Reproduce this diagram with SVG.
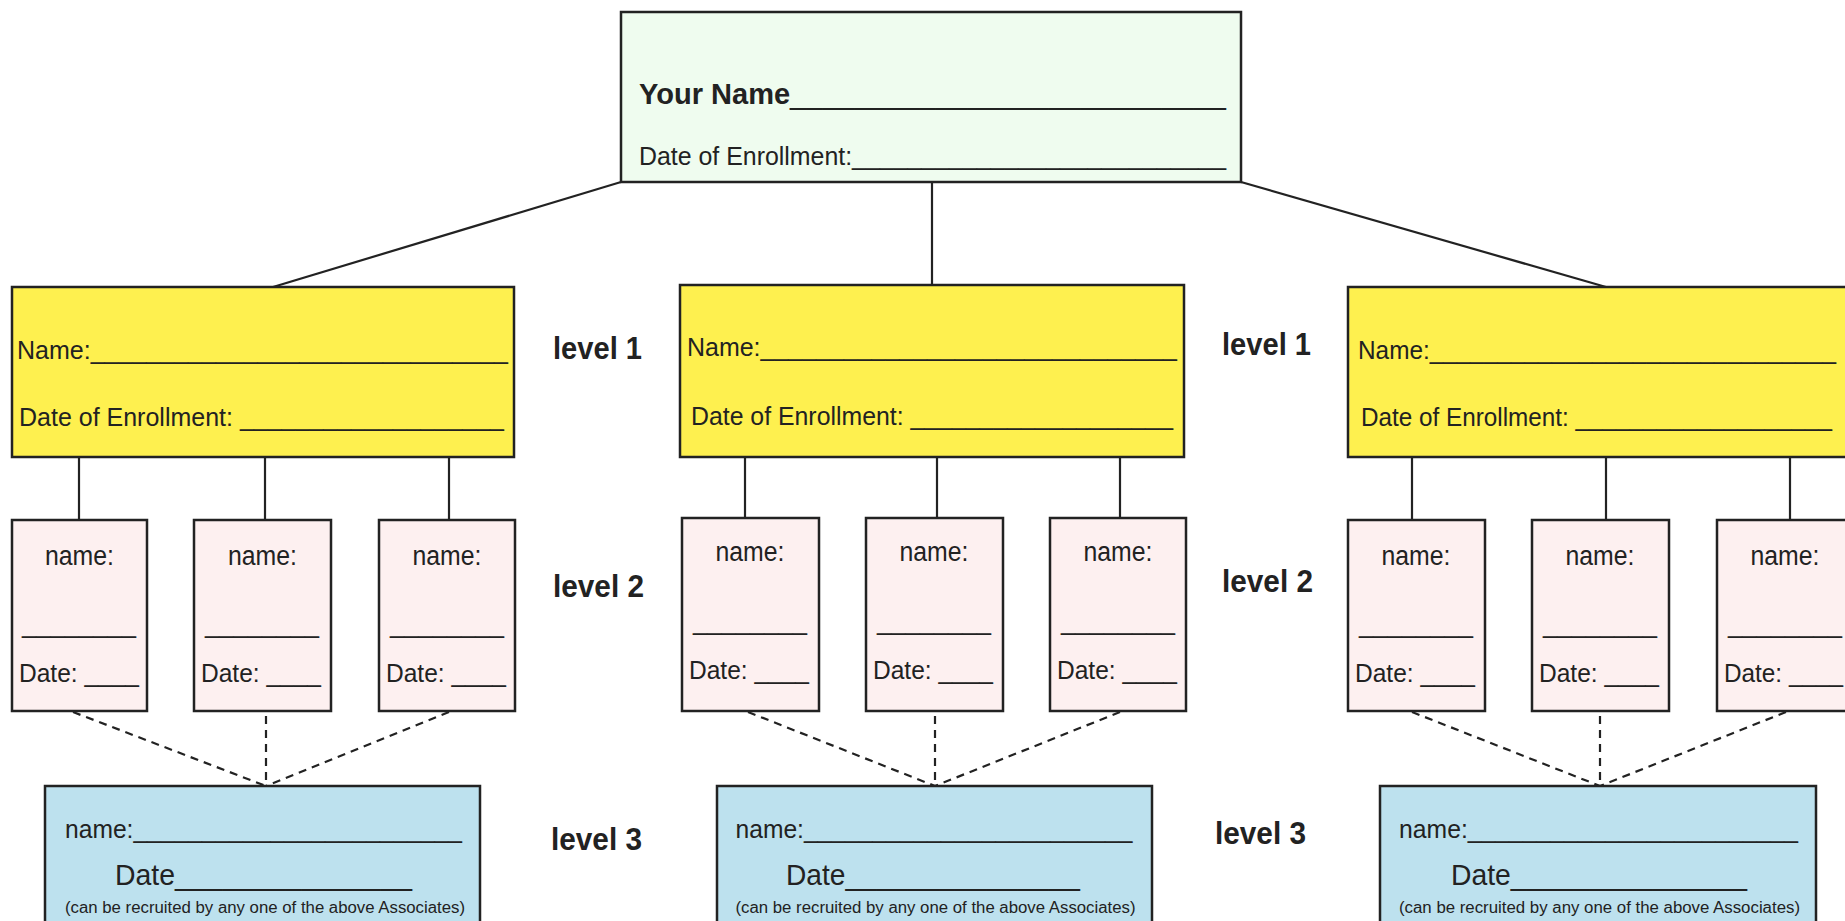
<svg xmlns="http://www.w3.org/2000/svg" width="1845" height="921" viewBox="0 0 1845 921">
<style>
text{font-family:"Liberation Sans",Arial,sans-serif;fill:#222}
.box{stroke:#222;stroke-width:2.5}
.top{fill:#effcef}
.l1{fill:#fef04f}
.l2{fill:#fdf0f0}
.l3{fill:#bde1ee}
.c{stroke:#222;stroke-width:2.2;fill:none}
.d{stroke:#222;stroke-width:2.2;fill:none;stroke-dasharray:8 6}
.lv{font-weight:bold;font-size:31px}
.f25{font-size:26px}
.f24{font-size:25px}
.nm{font-size:27px;text-anchor:middle}
</style>
<rect width="1845" height="921" fill="#fff"/>
<g id="connectors">
<line class="c" x1="621" y1="182" x2="273" y2="287"/>
<line class="c" x1="932" y1="182" x2="932" y2="285"/>
<line class="c" x1="1241" y1="182" x2="1606" y2="287"/>
<line class="c" x1="79" y1="457" x2="79" y2="520"/>
<line class="c" x1="265" y1="457" x2="265" y2="520"/>
<line class="c" x1="449" y1="457" x2="449" y2="520"/>
<line class="c" x1="745" y1="457" x2="745" y2="518"/>
<line class="c" x1="937" y1="457" x2="937" y2="518"/>
<line class="c" x1="1120" y1="457" x2="1120" y2="518"/>
<line class="c" x1="1412" y1="457" x2="1412" y2="520"/>
<line class="c" x1="1606" y1="457" x2="1606" y2="520"/>
<line class="c" x1="1790" y1="457" x2="1790" y2="522"/>
<line class="d" x1="73" y1="712" x2="266" y2="786"/>
<line class="d" x1="266" y1="716" x2="266" y2="786"/>
<line class="d" x1="449" y1="712" x2="266" y2="786"/>
<line class="d" x1="748" y1="712" x2="935" y2="786"/>
<line class="d" x1="935" y1="716" x2="935" y2="786"/>
<line class="d" x1="1120" y1="712" x2="935" y2="786"/>
<line class="d" x1="1412" y1="712" x2="1600" y2="786"/>
<line class="d" x1="1600" y1="716" x2="1600" y2="786"/>
<line class="d" x1="1786" y1="712" x2="1600" y2="786"/>
</g>
<g id="root">
<rect class="box top" x="621" y="12" width="620" height="170"/>
<text x="639" y="104" font-size="30" textLength="587" lengthAdjust="spacingAndGlyphs"><tspan font-weight="bold">Your Name</tspan>___________________________</text>
<text x="639" y="165" font-size="25" textLength="587" lengthAdjust="spacingAndGlyphs">Date of Enrollment:___________________________</text>
</g>
<g id="l1-left">
<rect class="box l1" x="12" y="287" width="502" height="170"/>
<text x="17" y="359" class="f25" textLength="491" lengthAdjust="spacingAndGlyphs">Name:______________________________</text>
<text x="19" y="426" class="f25" textLength="485" lengthAdjust="spacingAndGlyphs">Date of Enrollment: ___________________</text>
</g>
<g id="l1-mid">
<rect class="box l1" x="680" y="285" width="504" height="172"/>
<text x="687" y="356" class="f25" textLength="490" lengthAdjust="spacingAndGlyphs">Name:______________________________</text>
<text x="691" y="425" class="f25" textLength="482" lengthAdjust="spacingAndGlyphs">Date of Enrollment: ___________________</text>
</g>
<g id="l1-right">
<rect class="box l1" x="1348" y="287" width="504" height="170"/>
<text x="1358" y="359" class="f25" textLength="478" lengthAdjust="spacingAndGlyphs">Name:______________________________</text>
<text x="1361" y="426" class="f25" textLength="471" lengthAdjust="spacingAndGlyphs">Date of Enrollment: ___________________</text>
</g>
<g id="labels">
<text class="lv" x="553" y="359" textLength="89" lengthAdjust="spacingAndGlyphs">level 1</text>
<text class="lv" x="1222" y="355" textLength="89" lengthAdjust="spacingAndGlyphs">level 1</text>
<text class="lv" x="553" y="597" textLength="91" lengthAdjust="spacingAndGlyphs">level 2</text>
<text class="lv" x="1222" y="592" textLength="91" lengthAdjust="spacingAndGlyphs">level 2</text>
<text class="lv" x="551" y="850" textLength="91" lengthAdjust="spacingAndGlyphs">level 3</text>
<text class="lv" x="1215" y="844" textLength="91" lengthAdjust="spacingAndGlyphs">level 3</text>
</g>
<g id="l2-a1">
<rect class="box l2" x="12" y="520" width="135" height="191"/>
<text class="nm" x="79.5" y="565" textLength="69" lengthAdjust="spacingAndGlyphs">name:</text>
<text class="f24" x="22" y="633" textLength="114" lengthAdjust="spacingAndGlyphs">________</text>
<text class="f24" x="19" y="682" textLength="120" lengthAdjust="spacingAndGlyphs">Date: ____</text>
</g>
<g id="l2-a2">
<rect class="box l2" x="194" y="520" width="137" height="191"/>
<text class="nm" x="262.5" y="565" textLength="69" lengthAdjust="spacingAndGlyphs">name:</text>
<text class="f24" x="205" y="633" textLength="114" lengthAdjust="spacingAndGlyphs">________</text>
<text class="f24" x="201" y="682" textLength="120" lengthAdjust="spacingAndGlyphs">Date: ____</text>
</g>
<g id="l2-a3">
<rect class="box l2" x="379" y="520" width="136" height="191"/>
<text class="nm" x="447" y="565" textLength="69" lengthAdjust="spacingAndGlyphs">name:</text>
<text class="f24" x="390" y="633" textLength="114" lengthAdjust="spacingAndGlyphs">________</text>
<text class="f24" x="386" y="682" textLength="120" lengthAdjust="spacingAndGlyphs">Date: ____</text>
</g>
<g id="l2-b1">
<rect class="box l2" x="682" y="518" width="137" height="193"/>
<text class="nm" x="750" y="561" textLength="69" lengthAdjust="spacingAndGlyphs">name:</text>
<text class="f24" x="693" y="630" textLength="114" lengthAdjust="spacingAndGlyphs">________</text>
<text class="f24" x="689" y="679" textLength="120" lengthAdjust="spacingAndGlyphs">Date: ____</text>
</g>
<g id="l2-b2">
<rect class="box l2" x="866" y="518" width="137" height="193"/>
<text class="nm" x="934" y="561" textLength="69" lengthAdjust="spacingAndGlyphs">name:</text>
<text class="f24" x="877" y="630" textLength="114" lengthAdjust="spacingAndGlyphs">________</text>
<text class="f24" x="873" y="679" textLength="120" lengthAdjust="spacingAndGlyphs">Date: ____</text>
</g>
<g id="l2-b3">
<rect class="box l2" x="1050" y="518" width="136" height="193"/>
<text class="nm" x="1118" y="561" textLength="69" lengthAdjust="spacingAndGlyphs">name:</text>
<text class="f24" x="1061" y="630" textLength="114" lengthAdjust="spacingAndGlyphs">________</text>
<text class="f24" x="1057" y="679" textLength="120" lengthAdjust="spacingAndGlyphs">Date: ____</text>
</g>
<g id="l2-c1">
<rect class="box l2" x="1348" y="520" width="137" height="191"/>
<text class="nm" x="1416" y="565" textLength="69" lengthAdjust="spacingAndGlyphs">name:</text>
<text class="f24" x="1359" y="633" textLength="114" lengthAdjust="spacingAndGlyphs">________</text>
<text class="f24" x="1355" y="682" textLength="120" lengthAdjust="spacingAndGlyphs">Date: ____</text>
</g>
<g id="l2-c2">
<rect class="box l2" x="1532" y="520" width="137" height="191"/>
<text class="nm" x="1600" y="565" textLength="69" lengthAdjust="spacingAndGlyphs">name:</text>
<text class="f24" x="1543" y="633" textLength="114" lengthAdjust="spacingAndGlyphs">________</text>
<text class="f24" x="1539" y="682" textLength="120" lengthAdjust="spacingAndGlyphs">Date: ____</text>
</g>
<g id="l2-c3">
<rect class="box l2" x="1717" y="520" width="137" height="191"/>
<text class="nm" x="1785" y="565" textLength="69" lengthAdjust="spacingAndGlyphs">name:</text>
<text class="f24" x="1728" y="633" textLength="114" lengthAdjust="spacingAndGlyphs">________</text>
<text class="f24" x="1724" y="682" textLength="119" lengthAdjust="spacingAndGlyphs">Date: ____</text>
</g>
<g id="l3-a">
<rect class="box l3" x="45" y="786" width="435" height="140"/>
<text class="f25" x="65" y="838" textLength="397" lengthAdjust="spacingAndGlyphs">name:________________________</text>
<text x="115" y="885" font-size="29" textLength="297" lengthAdjust="spacingAndGlyphs">Date_______________</text>
<text x="65" y="913" font-size="16" textLength="400" lengthAdjust="spacingAndGlyphs">(can be recruited by any one of the above Associates)</text>
</g>
<g id="l3-b">
<rect class="box l3" x="717" y="786" width="435" height="140"/>
<text class="f25" x="735.5" y="838" textLength="397" lengthAdjust="spacingAndGlyphs">name:________________________</text>
<text x="786" y="885" font-size="29" textLength="294" lengthAdjust="spacingAndGlyphs">Date_______________</text>
<text x="735.5" y="913" font-size="16" textLength="400" lengthAdjust="spacingAndGlyphs">(can be recruited by any one of the above Associates)</text>
</g>
<g id="l3-c">
<rect class="box l3" x="1380" y="786" width="436" height="140"/>
<text class="f25" x="1399" y="838" textLength="399" lengthAdjust="spacingAndGlyphs">name:________________________</text>
<text x="1451" y="885" font-size="29" textLength="296" lengthAdjust="spacingAndGlyphs">Date_______________</text>
<text x="1399" y="913" font-size="16" textLength="401" lengthAdjust="spacingAndGlyphs">(can be recruited by any one of the above Associates)</text>
</g>
</svg>
